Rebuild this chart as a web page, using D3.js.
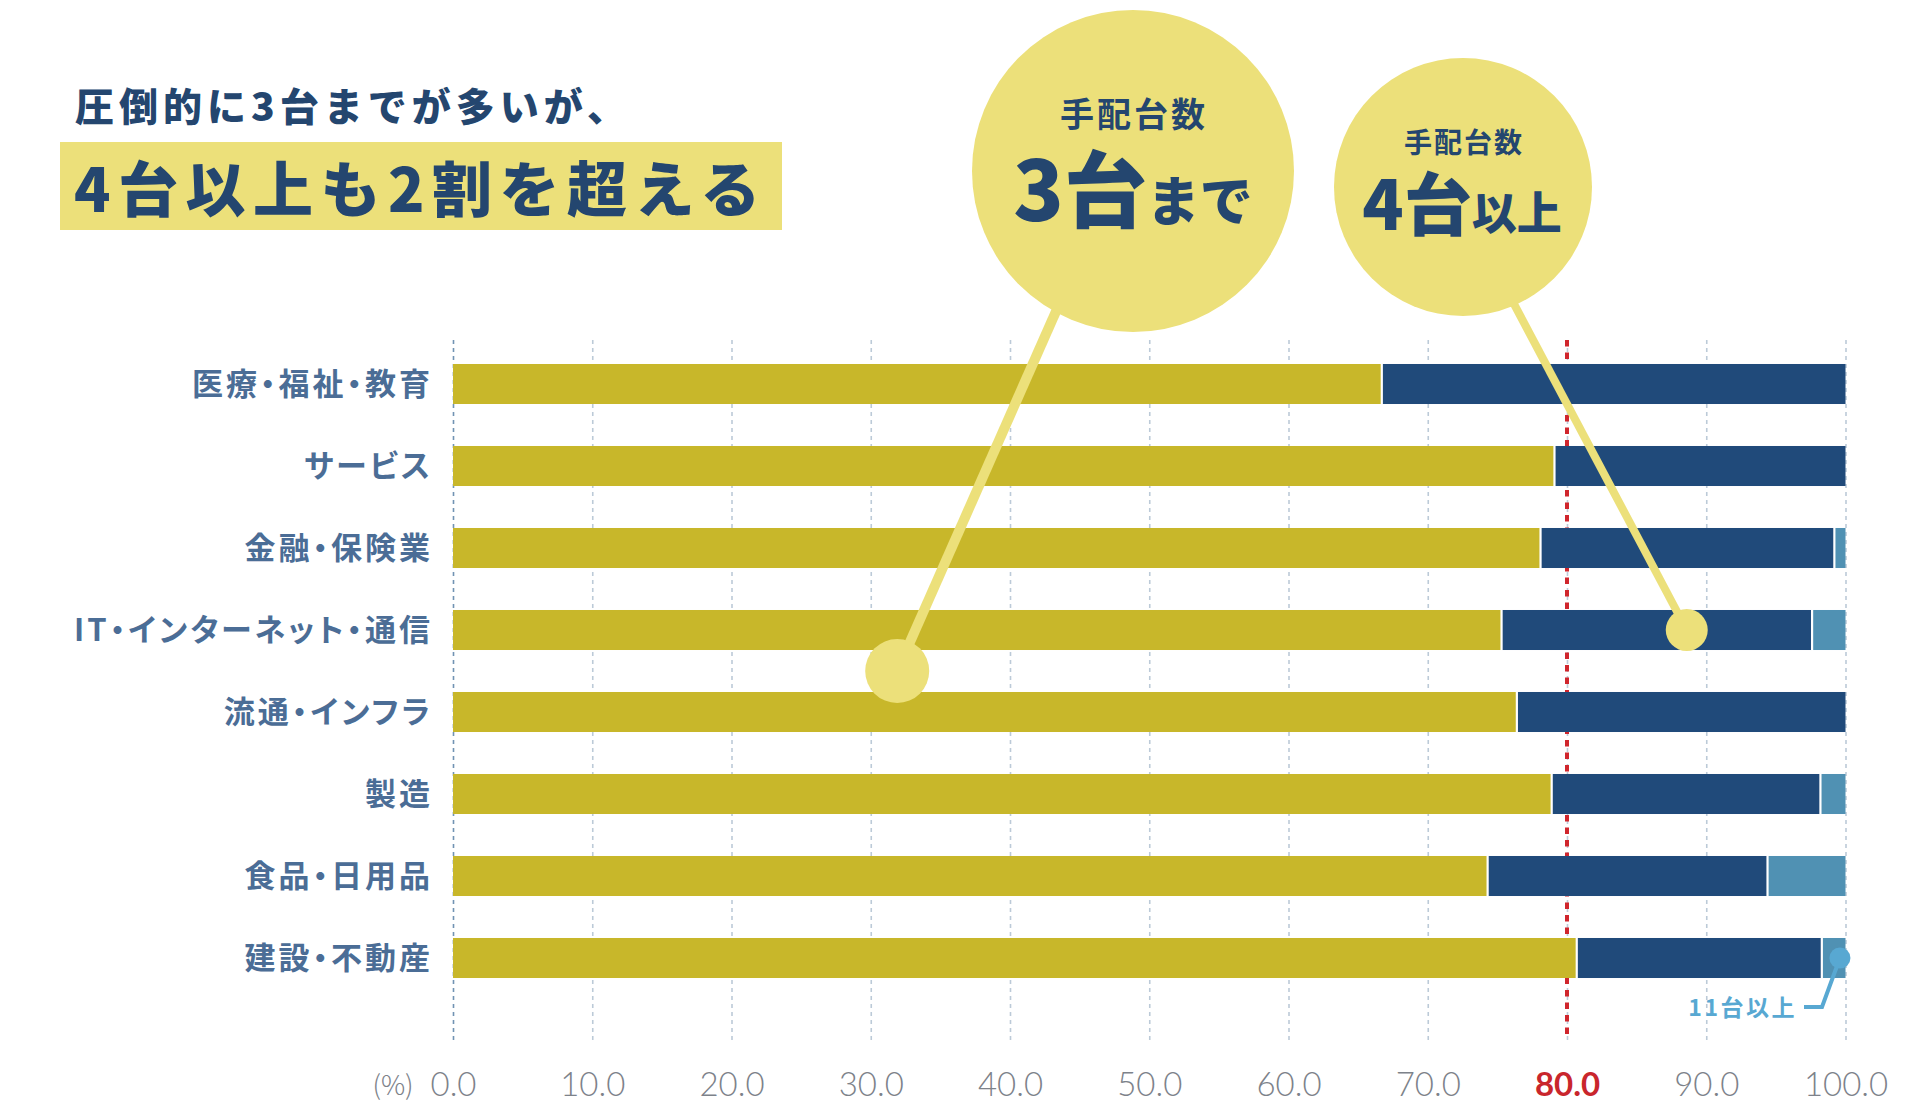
<!DOCTYPE html>
<html>
<head>
<meta charset="utf-8">
<script src="https://cdn.jsdelivr.net/npm/d3@7"></script>
<style>
  html, body { margin: 0; padding: 0; background: #ffffff; }
  svg { display: block; }
  .jp { font-family: "Noto Sans CJK JP", "Noto Sans", sans-serif; }
</style>
</head>
<body>
<svg id="chart" width="1920" height="1104"></svg>
<script>
// ---- data ----
const categories = ["医療・福祉・教育", "サービス", "金融・保険業", "IT・インターネット・通信", "流通・インフラ", "製造", "食品・日用品", "建設・不動産"];
const upTo3   = [66.7, 79.1, 78.1, 75.3, 76.4, 78.9, 74.3, 80.7];
const from4to10 = [33.3, 20.9, 21.1, 22.3, 23.6, 19.3, 20.1, 17.6];
const over11  = [0.0, 0.0, 0.8, 2.4, 0.0, 1.8, 5.6, 1.7];
const seriesNames = ["3台まで", "4〜10台", "11台以上"];
const tickValues = [0, 10, 20, 30, 40, 50, 60, 70, 80, 90, 100];
const refValue = 80;

const colors = ["#c8b72a", "#204a7a", "#5091b3"];
const navy = "#24466f";
const labelColor = "#4b6d96";
const bubbleColor = "#ece07a";

const svg = d3.select("#chart");

const x = d3.scaleLinear().domain([0, 100]).range([453, 1845.5]);
const y = d3.scaleBand().domain(categories).range([343, 999]).paddingInner(0.512).paddingOuter(0.256);

const gridTop = 340, gridBottom = 1040;

// ---- grid (via axis) ----
const grid = svg.append("g")
  .attr("transform", `translate(0,${gridBottom})`)
  .call(d3.axisBottom(x).tickValues(tickValues).tickSize(-(gridBottom - gridTop)).tickFormat(""));
grid.select(".domain").remove();
grid.selectAll(".tick line")
  .attr("stroke", d => d === 0 ? "#7193b3" : "#bccad8")
  .attr("stroke-width", 1.6)
  .attr("stroke-dasharray", "4,4");

// ---- reference line at 80 ----
svg.append("line")
  .attr("x1", x(refValue)).attr("x2", x(refValue))
  .attr("y1", gridTop).attr("y2", gridBottom)
  .attr("stroke", "#d0262d").attr("stroke-width", 4)
  .attr("stroke-dasharray", "6.5,6");

// ---- stacked bars ----
const rows = categories.map((c, i) => ({ cat: c, vals: [upTo3[i], from4to10[i], over11[i]] }));
const stackData = rows.map(r => {
  const segs = []; let acc = 0;
  r.vals.forEach((v, k) => { segs.push({ cat: r.cat, k, x0: acc, x1: acc + v }); acc += v; });
  return segs;
}).flat().filter(s => s.x1 - s.x0 > 0);

svg.append("g").selectAll("rect").data(stackData).join("rect")
  .attr("x", d => x(d.x0))
  .attr("y", d => y(d.cat))
  .attr("width", d => Math.min(x(d.x1), x(100)) - x(d.x0))
  .attr("height", y.bandwidth())
  .attr("fill", d => colors[d.k]);

// white separators between segments
svg.append("g").selectAll("line").data(stackData.filter(d => d.x0 > 0)).join("line")
  .attr("x1", d => x(d.x0)).attr("x2", d => x(d.x0))
  .attr("y1", d => y(d.cat)).attr("y2", d => y(d.cat) + y.bandwidth())
  .attr("stroke", "#ffffff").attr("stroke-width", 2.2);

// ---- category labels ----
svg.append("g").selectAll("text").data(categories).join("text")
  .attr("class", "jp")
  .attr("x", 433)
  .attr("y", d => y(d) + y.bandwidth() / 2)
  .attr("dy", "0.36em")
  .attr("text-anchor", "end")
  .attr("fill", labelColor)
  .style("font-size", "31px")
  .style("font-weight", 700)
  .style("letter-spacing", "3px")
  .style("font-feature-settings", "'palt' 1")
  .text(d => d);

// ---- tick labels (axis) ----
const ax = svg.append("g")
  .attr("transform", `translate(0,1062)`)
  .call(d3.axisBottom(x).tickValues(tickValues).tickSize(0).tickPadding(0).tickFormat(d3.format(".1f")));
ax.select(".domain").remove();
ax.selectAll(".tick text")
  .attr("y", 34).attr("dy", 0)
  .style("font-family", "Lato, 'Noto Sans', sans-serif")
  .style("font-size", "33px")
  .style("font-weight", d => d === refValue ? 700 : 300)
  .attr("fill", d => d === refValue ? "#c9262c" : "#7d828a");

svg.append("text")
  .attr("x", 393).attr("y", 1095)
  .attr("text-anchor", "middle")
  .style("font-family", "'Noto Sans CJK JP', sans-serif")
  .style("font-size", "27px").style("font-weight", 300)
  .attr("fill", "#7d828a")
  .text("(%)");

// ---- title ----
svg.append("rect").attr("x", 60).attr("y", 142).attr("width", 722).attr("height", 88).attr("fill", bubbleColor);
svg.append("text").attr("class", "jp")
  .attr("x", 75).attr("y", 121)
  .attr("fill", navy)
  .style("font-size", "39px").style("font-weight", 900).style("letter-spacing", "5px")
  .text("圧倒的に3台までが多いが、");
svg.append("text").attr("class", "jp")
  .attr("x", 74).attr("y", 212)
  .attr("fill", navy)
  .style("font-size", "60px").style("font-weight", 900).style("letter-spacing", "7.5px")
  .text("4台以上も2割を超える");

// ---- callout bubbles ----
const bigDot = { x: x(31.9), y: (y(categories[3]) + y.bandwidth() + y(categories[4])) / 2 };
const smallDot = { x: x(88.6), y: y(categories[3]) + y.bandwidth() / 2 };

svg.append("line")
  .attr("x1", bigDot.x).attr("y1", bigDot.y)
  .attr("x2", 1118).attr("y2", 171)
  .attr("stroke", bubbleColor).attr("stroke-width", 10);
svg.append("circle").attr("cx", bigDot.x).attr("cy", bigDot.y).attr("r", 32).attr("fill", bubbleColor);
svg.append("circle").attr("cx", 1133).attr("cy", 171).attr("r", 161).attr("fill", bubbleColor);

svg.append("line")
  .attr("x1", smallDot.x).attr("y1", smallDot.y)
  .attr("x2", 1452).attr("y2", 187)
  .attr("stroke", bubbleColor).attr("stroke-width", 8);
svg.append("circle").attr("cx", smallDot.x).attr("cy", smallDot.y).attr("r", 21).attr("fill", bubbleColor);
svg.append("circle").attr("cx", 1463).attr("cy", 187).attr("r", 129).attr("fill", bubbleColor);

// bubble texts
svg.append("text").attr("class", "jp")
  .attr("x", 1134).attr("y", 127).attr("text-anchor", "middle")
  .attr("fill", navy).style("font-size", "34px").style("font-weight", 700).style("letter-spacing", "3px")
  .text("手配台数");
const t1 = svg.append("text").attr("class", "jp")
  .attr("x", 1133).attr("y", 221).attr("text-anchor", "middle")
  .attr("fill", navy).style("font-weight", 900);
t1.append("tspan").style("font-size", "83px").text("3台");
t1.append("tspan").style("font-size", "53px").text("まで");

svg.append("text").attr("class", "jp")
  .attr("x", 1464).attr("y", 153).attr("text-anchor", "middle")
  .attr("fill", navy).style("font-size", "28px").style("font-weight", 700).style("letter-spacing", "2px")
  .text("手配台数");
const t2 = svg.append("text").attr("class", "jp")
  .attr("x", 1462).attr("y", 230).attr("text-anchor", "middle")
  .attr("fill", navy).style("font-weight", 900);
t2.append("tspan").style("font-size", "68px").text("4台");
t2.append("tspan").style("font-size", "45px").text("以上");

// ---- 11台以上 annotation ----
const blueDot = { x: x(99.6), y: y(categories[7]) + y.bandwidth() / 2 };
svg.append("path")
  .attr("d", `M1804,1007 H1822 L${blueDot.x},${blueDot.y}`)
  .attr("fill", "none").attr("stroke", "#58a8d2").attr("stroke-width", 4);
svg.append("circle").attr("cx", blueDot.x).attr("cy", blueDot.y).attr("r", 10.5).attr("fill", "#58a8d2");
svg.append("text").attr("class", "jp")
  .attr("x", 1797).attr("y", 1016).attr("text-anchor", "end")
  .attr("fill", "#58a8d2").style("font-size", "23px").style("font-weight", 700).style("letter-spacing", "2.5px")
  .text("11台以上");
</script>
</body>
</html>
